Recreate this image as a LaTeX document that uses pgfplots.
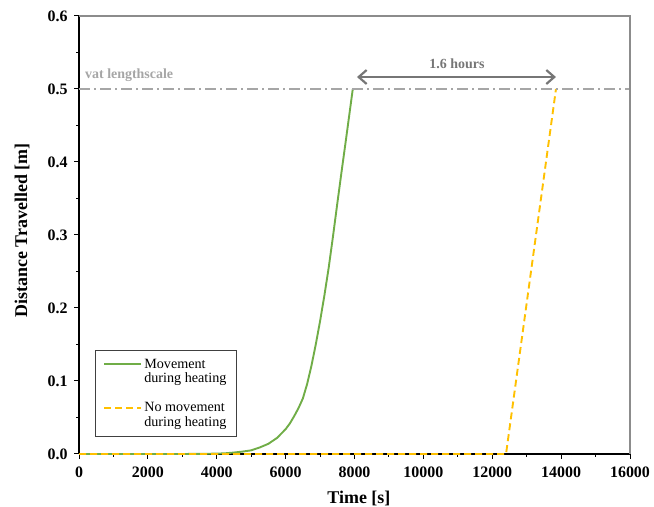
\documentclass[border=0pt]{standalone}
\usepackage{fontspec}
\setmainfont{Liberation Serif}
\usepackage{pgfplots}
\pgfplotsset{compat=1.18}
\usetikzlibrary{arrows.meta}

\definecolor{heatgreen}{HTML}{70AD47}
\definecolor{heatorange}{HTML}{FFC000}
\definecolor{refgray}{HTML}{A6A6A6}
\definecolor{arrowgray}{HTML}{767676}
\definecolor{framegray}{HTML}{8C8C8C}

\begin{document}
\begin{tikzpicture}[x=1bp,y=1bp]
\begin{axis}[
  at={(79bp,53bp)}, anchor=south west,
  scale only axis, width=551bp, height=438bp,
  xmin=0, xmax=16000, ymin=0, ymax=0.6,
  clip=false,
  axis lines*=left,
  axis line style={black, line width=1.3bp, -},
  xtick={0,2000,4000,6000,8000,10000,12000,14000,16000},
  ytick={0,0.1,0.2,0.3,0.4,0.5,0.6},
  minor x tick num=1, minor y tick num=1,
  tick pos=left,
  xtick align=outside, ytick align=outside,
  major tick length=5bp, minor tick length=3bp,
  every tick/.style={black, line width=1bp},
  scaled x ticks=false, scaled y ticks=false,
  /pgf/number format/assume math mode=true,
  tick label style={font=\fontsize{16}{16}\selectfont\bfseries},
  xticklabel style={yshift=-4bp, /pgf/number format/1000 sep={}},
  yticklabel style={xshift=-3bp, /pgf/number format/.cd, fixed, fixed zerofill, precision=1},
  xlabel={Time [s]}, ylabel={Distance Travelled [m]},
  label style={font=\fontsize{18}{18}\selectfont\bfseries},
  xlabel style={at={(axis description cs:0.508,-0.102)}, anchor=center},
  ylabel style={at={(axis description cs:-0.1034,0.51)}, anchor=center, rotate=0},
  legend style={at={(axis description cs:0.029,0.2374)}, anchor=north west,
    draw=black!75, line width=0.9bp, fill=white,
    font=\fontsize{14.2}{14.6}\selectfont, align=left,
    inner xsep=8bp, inner ysep=6.5bp, row sep=14bp},
  legend cell align=left,
  legend image code/.code={\draw[#1] (0bp,7.3bp) -- (37bp,7.3bp);},
]

% distance covered when the part moves during heating
\addplot[heatgreen, line width=1.9bp] coordinates {
  (0,0) (3000,0) (3500,0.0002) (4000,0.0005) (4250,0.001) (4500,0.002)
  (4750,0.0033) (5000,0.005) (5250,0.009) (5500,0.014) (5750,0.022)
  (6000,0.034) (6125,0.042) (6250,0.052) (6375,0.063) (6500,0.076)
  (6625,0.096) (6750,0.121) (6875,0.150) (7000,0.182) (7125,0.217)
  (7250,0.255) (7375,0.298) (7500,0.343) (7625,0.387) (7750,0.430)
  (7950,0.500)
};
\addlegendentry{Movement\\during heating}

% distance covered when movement only starts after heating
\addplot[heatorange, line width=1.9bp, dash pattern=on 7bp off 4bp] coordinates {
  (0,0) (12400,0) (13850,0.5)
};
\addlegendentry{No movement\\during heating}

% vat length scale
\addplot[refgray, line width=1.5bp, dash pattern=on 11bp off 4bp on 2bp off 4bp, forget plot]
  coordinates {(0,0.5) (16000,0.5)};

% upper and right frame
\draw[framegray, line width=1.1bp] (rel axis cs:0,1) -- (rel axis cs:1,1) -- (rel axis cs:1,0);

\node[anchor=base west, inner sep=0, text=refgray, font=\fontsize{14}{14}\selectfont\bfseries]
  at (axis cs:174,0.5) [yshift=10bp] {vat lengthscale};

\draw[arrowgray, line width=2.2bp,
  {Straight Barb[length=8bp,width=14bp]}-{Straight Barb[length=8bp,width=14bp]}]
  (axis cs:8072,0.5164) -- (axis cs:13850,0.5164);
\node[anchor=base, inner sep=0, text=arrowgray, font=\fontsize{14}{14}\selectfont\bfseries]
  at (axis cs:10975,0.5164) [yshift=8.7bp] {1.6 hours};
\end{axis}
\pgfresetboundingbox
\useasboundingbox (0,0) rectangle (654,507);
\end{tikzpicture}
\end{document}
